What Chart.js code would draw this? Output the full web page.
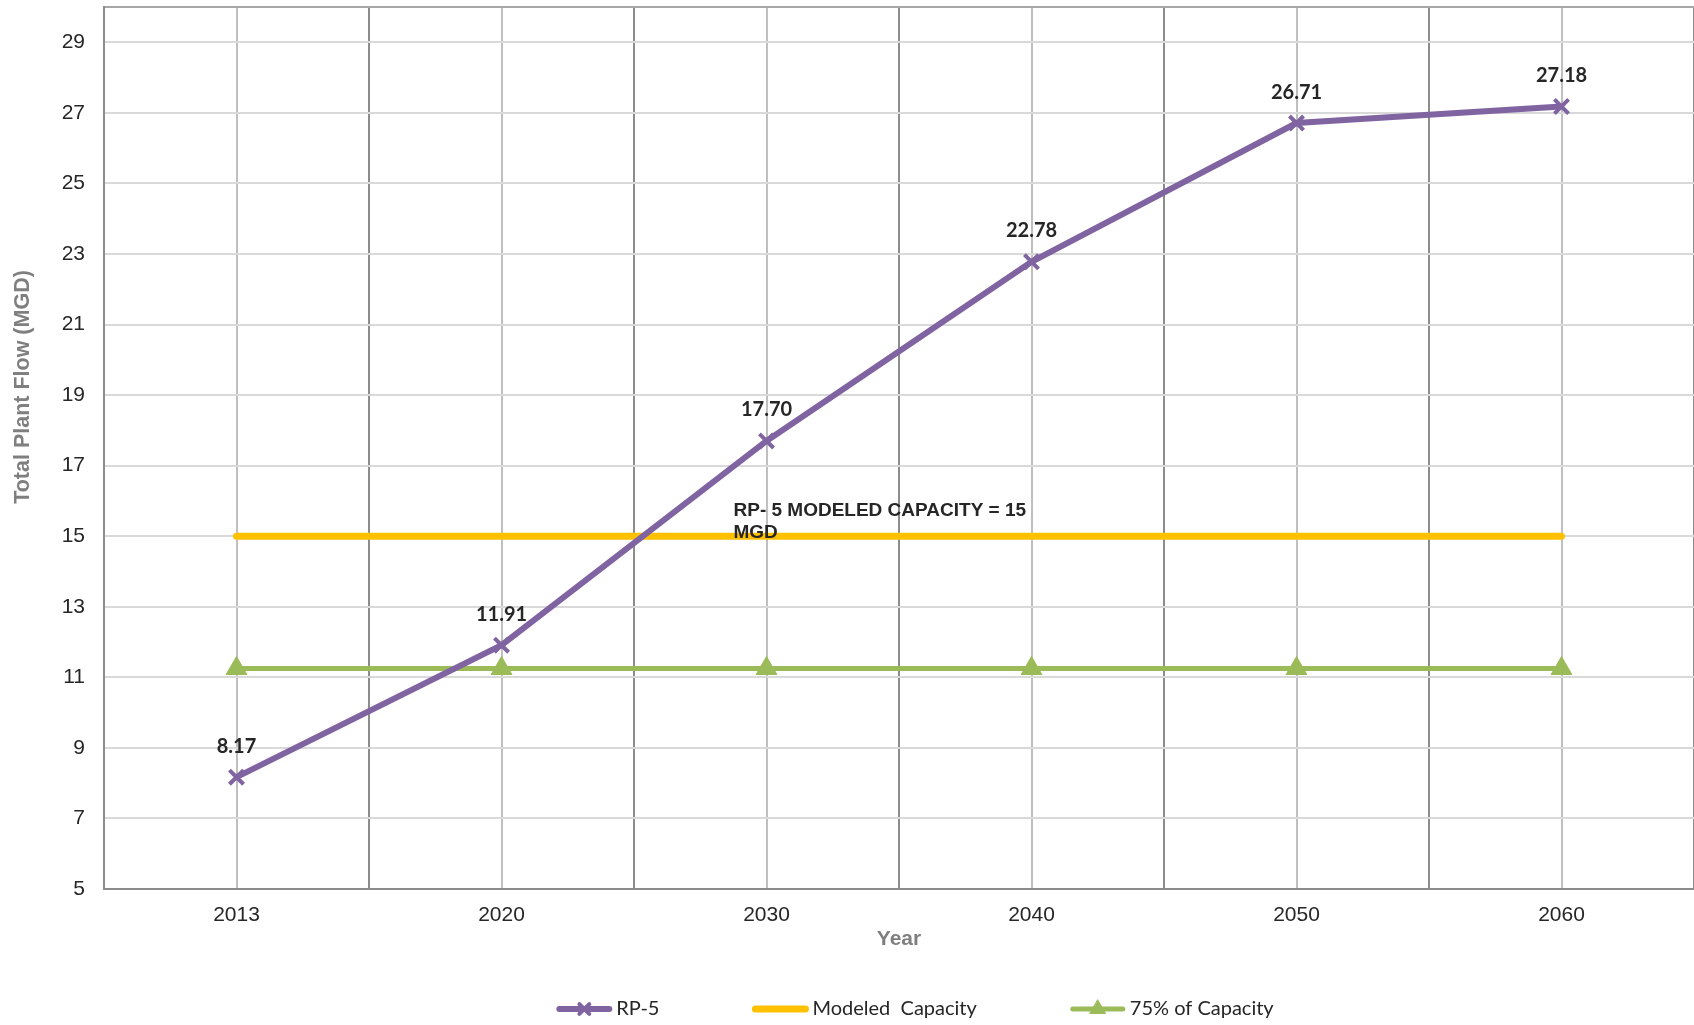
<!DOCTYPE html>
<html>
<head>
<meta charset="utf-8">
<script src="https://cdn.jsdelivr.net/npm/chart.js@4/dist/chart.umd.min.js"></script>
<style>
  html, body { margin: 0; padding: 0; background: #fff; }
  #wrap { width: 1694px; height: 1025px; }
</style>
</head>
<body>
<div id="wrap"><canvas id="chart" width="1694" height="1025"></canvas></div>
<script>
// data
const years = ['2013', '2020', '2030', '2040', '2050', '2060']
const rp5Flow = [8.17, 11.91, 17.70, 22.78, 26.71, 27.18]
const modeledCapacity = [15, 15, 15, 15, 15, 15]
const capacity75 = [11.25, 11.25, 11.25, 11.25, 11.25, 11.25]
const yTicks = [5, 7, 9, 11, 13, 15, 17, 19, 21, 23, 25, 27, 29]
const capacityNote = ['RP- 5 MODELED CAPACITY = 15', 'MGD']
const yTitle = 'Total Plant Flow (MGD)'

const PURPLE = '#8064A2'
const YELLOW = '#FFC000'
const GREEN = '#9BBB59'
const AXIS = '#8c8c8c'
const TEXT = '#262626'

function noPadding(scale) {
  scale.paddingTop = 0
  scale.paddingBottom = 0
  scale.paddingLeft = 0
  scale.paddingRight = 0
}

// value labels above the RP-5 points, capacity note, y title
const valueLabels = {
  id: 'valueLabels',
  afterDatasetsDraw(chart) {
    const ctx = chart.ctx
    const area = chart.chartArea
    const meta = chart.getDatasetMeta(0)
    ctx.save()
    ctx.font = 'bold 20px Lato, "Open Sans", sans-serif'
    ctx.fillStyle = TEXT
    ctx.textAlign = 'center'
    ctx.textBaseline = 'middle'
    meta.data.forEach((pt, i) => {
      ctx.fillText(rp5Flow[i].toFixed(2), pt.x, pt.y - 31)
    })

    // capacity note next to the 2030 gridline
    const x = chart.scales.x.getPixelForValue(2) - 33
    const y = chart.scales.y.getPixelForValue(15)
    ctx.font = 'bold 19px "Liberation Sans", Arial, sans-serif'
    ctx.textAlign = 'left'
    ctx.fillText(capacityNote[0], x, y - 25)
    ctx.fillText(capacityNote[1], x, y - 3)

    // y axis title sits a bit above the middle in the original
    ctx.translate(23, (area.top + area.bottom) / 2 - 61)
    ctx.rotate(-Math.PI / 2)
    ctx.textAlign = 'center'
    ctx.fillStyle = '#7f7f7f'
    ctx.font = 'bold 21.5px "Liberation Sans", Arial, sans-serif'
    ctx.fillText(yTitle, 0, 0)
    ctx.restore()
  }
}

// bottom legend, Excel style (line + marker)
const lineLegend = {
  id: 'lineLegend',
  afterDraw(chart) {
    const ctx = chart.ctx
    const area = chart.chartArea
    const lineLen = 56, textGap = 4, itemGap = 93
    const y = 1009
    ctx.save()
    ctx.font = '20px Lato, "Open Sans", sans-serif'
    const items = chart.data.datasets.map(ds => ({
      ds, w: lineLen + textGap + ctx.measureText(ds.label).width
    }))
    const total = items.reduce((s, it) => s + it.w, 0) + itemGap * (items.length - 1)
    let x = (area.left + area.right) / 2 + 16 - total / 2
    items.forEach(({ ds, w }) => {
      ctx.strokeStyle = ds.borderColor
      ctx.lineWidth = ds.borderWidth
      ctx.lineCap = 'round'
      ctx.beginPath()
      ctx.moveTo(x + 3, y)
      ctx.lineTo(x + lineLen - 3, y)
      ctx.stroke()
      if (ds.pointRadius > 0) {
        ctx.fillStyle = ds.pointBackgroundColor
        ctx.strokeStyle = ds.pointBorderColor
        ctx.lineWidth = ds.pointBorderWidth
        Chart.helpers.drawPoint(ctx, {
          pointStyle: ds.pointStyle,
          radius: ds.pointStyle === 'triangle' ? 9 : 7,
          borderWidth: ds.pointBorderWidth,
          rotation: 0
        }, x + lineLen / 2, y)
      }
      ctx.fillStyle = TEXT
      ctx.textAlign = 'left'
      ctx.textBaseline = 'middle'
      ctx.fillText(ds.label, x + lineLen + textGap, y)
      x += w + itemGap
    })
    ctx.restore()
  }
}

new Chart(document.getElementById('chart'), {
  type: 'line',
  data: {
    labels: years,
    datasets: [
      {
        label: 'RP-5',
        data: rp5Flow,
        borderColor: PURPLE,
        borderWidth: 6,
        pointStyle: 'crossRot',
        pointRadius: 10,
        pointBorderWidth: 4,
        pointBackgroundColor: PURPLE,
        pointBorderColor: PURPLE,
        tension: 0
      },
      {
        label: 'Modeled  Capacity',
        data: modeledCapacity,
        borderColor: YELLOW,
        borderWidth: 7,
        pointRadius: 0,
        borderCapStyle: 'round'
      },
      {
        label: '75% of Capacity',
        data: capacity75,
        borderColor: GREEN,
        borderWidth: 5,
        pointStyle: 'triangle',
        pointRadius: 12,
        pointBorderWidth: 1,
        pointBackgroundColor: GREEN,
        pointBorderColor: GREEN
      }
    ]
  },
  options: {
    responsive: false,
    animation: false,
    layout: { autoPadding: false, padding: { top: 7, right: 0, bottom: 56, left: 0 } },
    plugins: {
      legend: { display: false },
      tooltip: { enabled: false }
    },
    scales: {
      x: {
        type: 'category',
        offset: true,
        grid: { offset: true, color: AXIS, lineWidth: 2, drawTicks: false },
        border: { color: AXIS, width: 2 },
        ticks: { color: TEXT, font: { family: '"Liberation Sans", Arial', size: 21 }, padding: 14, maxRotation: 0 },
        title: {
          display: true, text: 'Year', color: '#7f7f7f',
          font: { family: '"Liberation Sans", Arial', size: 21, weight: 'bold' },
          padding: { top: 0, bottom: 17 }
        },
        afterFit(scale) { scale.height = 80; noPadding(scale) }
      },
      x2: {
        type: 'category',
        position: 'top',
        offset: true,
        grid: { offset: false, color: '#bfbfbf', lineWidth: 2, drawTicks: false },
        border: { color: '#a6a6a6', width: 2 },
        ticks: { display: false },
        afterFit(scale) { scale.height = 0; noPadding(scale) }
      },
      y: {
        min: 5,
        max: 30,
        afterBuildTicks(scale) { scale.ticks = yTicks.map(v => ({ value: v })) },
        grid: { color: '#d9d9d9', lineWidth: 2, drawTicks: false },
        border: { color: AXIS, width: 2 },
        ticks: { color: TEXT, font: { family: '"Liberation Sans", Arial', size: 21 }, padding: 19 },
        title: { display: false },
        afterFit(scale) { scale.width = 104; noPadding(scale) }
      }
    }
  },
  plugins: [valueLabels, lineLegend]
})
</script>
</body>
</html>
